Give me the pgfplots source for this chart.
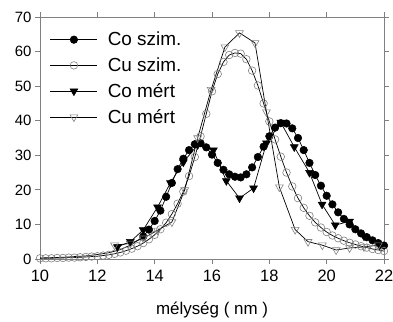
\documentclass[border=0pt]{standalone}
\usepackage{fontspec}
\setmainfont{Liberation Sans}
\usepackage{pgfplots}
\pgfplotsset{compat=1.18}
\definecolor{mgray}{RGB}{128,128,128}
\begin{document}
\begin{tikzpicture}
\useasboundingbox (0bp,0bp) rectangle (393bp,322bp);
\begin{axis}[
  at={(40bp,63bp)}, anchor=south west,
  scale only axis, width=344bp, height=242bp,
  xmin=10, xmax=22, ymin=0, ymax=70,
  xtick={10,12,...,22}, ytick={0,10,...,70},
  minor tick num=0,
  tick align=outside, major tick length=5bp,
  axis line style={mgray, line width=0.8bp},
  every tick/.style={mgray, line width=0.8bp},
  yticklabel style={font=\fontsize{15}{15}\selectfont},
  xticklabel style={yshift=-3bp, font=\fontsize{16.5}{16.5}\selectfont},
  /pgf/number format/assume math mode=true,
  xlabel={mélység ( nm )},
  xlabel style={at={(axis description cs:0.5,-0.231)}, anchor=base, font=\fontsize{17}{17}\selectfont},
  legend style={draw=none, fill=none, at={(axis description cs:0.02,0.955)}, anchor=north west,
    font=\fontsize{19}{19}\selectfont, row sep=6.5bp, cells={anchor=west},
    /tikz/every odd column/.append style={column sep=8bp}},
  legend image code/.code={\draw[mark repeat=2,mark phase=2] plot coordinates {(0bp,0bp)(23.5bp,0bp)(47bp,0bp)};},
  every axis plot/.append style={line width=0.7bp, black},
]
% Co szim line (no markers at low depth)
\addplot[mark=none, forget plot] coordinates {
(10.0,0.3)(10.4,0.4)(10.8,0.5)(11.2,0.7)(11.6,0.9)(12.0,1.3)(12.4,1.8)(12.8,2.7)(13.2,4.2)(13.6,6.5)};
% Co szim
\addplot[mark=*, mark size=3.8bp, mark options={fill=black, draw=black, line width=0.5bp}] coordinates {
(13.6,6.5)(13.8,8.5)(14.0,11)(14.2,14)(14.4,18)(14.6,22)(14.8,26)(15.0,29)(15.2,31.5)(15.4,33.2)
(15.6,33.5)(15.8,32.3)(16.0,30.2)(16.2,27.8)(16.4,25.8)(16.6,24.5)(16.8,23.8)(17.0,23.6)(17.2,24.5)
(17.4,26.5)(17.6,29.5)(17.8,32.5)(18.0,35.5)(18.2,38)(18.4,39.3)(18.6,39.2)(18.8,37.8)(19.0,35)
(19.2,31.5)(19.4,27.8)(19.6,24.3)(19.8,21.2)(20.0,18.3)(20.2,15.8)(20.4,13.5)(20.6,11.6)(20.8,10)
(21.0,8.6)(21.2,7.4)(21.4,6.3)(21.6,5.4)(21.8,4.6)(22.0,3.9)};
\addlegendentry{Co szim.}
% Cu szim
\addplot[mark=o, mark size=3.8bp, mark options={draw=mgray, line width=0.6bp}] coordinates {
(10.0,0.2)(10.2,0.2)(10.4,0.2)(10.6,0.3)(10.8,0.3)(11.0,0.4)(11.2,0.4)(11.4,0.5)(11.6,0.6)(11.8,0.7)
(12.0,0.8)(12.2,1.0)(12.4,1.2)(12.6,1.5)(12.8,1.9)(13.0,2.4)(13.2,3.0)(13.4,3.7)(13.6,4.6)(13.8,5.7)
(14.0,7.0)(14.2,8.6)(14.4,10.5)(14.6,13)(14.8,16)(15.0,19.5)(15.2,24)(15.4,29.5)(15.6,35.5)(15.8,42)
(16.0,48.5)(16.2,53.5)(16.4,57)(16.6,59)(16.8,59.6)(17.0,59.4)(17.2,57.8)(17.4,54.5)(17.6,50.2)(17.8,45)
(18.0,39.8)(18.2,34.6)(18.4,29.6)(18.6,25)(18.8,21)(19.0,17.6)(19.2,14.8)(19.4,12.5)(19.6,10.6)(19.8,9.1)
(20.0,7.8)(20.2,6.8)(20.4,6.0)(20.6,5.3)(20.8,4.7)(21.0,4.2)(21.2,3.7)(21.4,3.3)(21.6,2.9)(21.8,2.6)(22.0,2.3)};
\addlegendentry{Cu szim.}
% Co mert
\addplot[mark=triangle*, mark size=4.5bp, mark options={rotate=180, fill=black, draw=black, line width=0.5bp}] coordinates {
(12.7,3.5)(13.15,5)(13.6,8.4)(14.1,15)(14.55,22)(15.0,28)(15.5,33)(16.05,31.5)(16.5,22.6)(16.96,17.6)
(17.45,20.5)(17.9,33.5)(18.4,39.5)(18.87,32.4)(19.4,25)(19.84,15.8)(20.3,9.8)(20.8,10.9)(21.3,6.6)(21.85,4)};
\addlegendentry{Co mért}
% Cu mert
\addplot[mark=triangle, mark size=4.5bp, mark options={rotate=180, draw=mgray, line width=0.6bp}] coordinates {
(12.6,4)(13.15,4.5)(13.6,6)(14.1,8.3)(14.6,10.7)(15.05,20)(15.5,35)(15.97,49)(16.45,61.3)(16.96,65.4)
(17.5,62.5)(17.9,42.5)(18.35,20.8)(18.9,8.5)(19.35,5)(19.85,4)(20.33,2.6)(20.8,3.2)(21.3,3.5)(21.8,4)};
\addlegendentry{Cu mért}
\end{axis}
\end{tikzpicture}
\end{document}
